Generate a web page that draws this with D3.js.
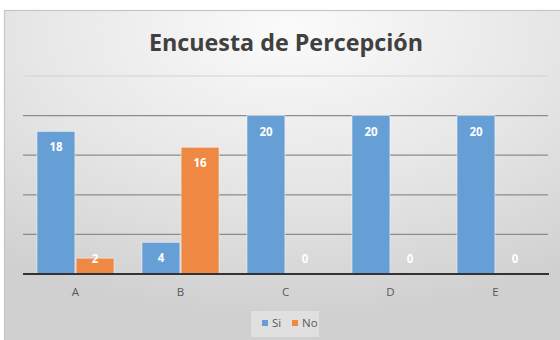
<!DOCTYPE html>
<html><head><meta charset="utf-8">
<script src="https://cdn.jsdelivr.net/npm/d3@7"></script>
<style>html,body{margin:0;padding:0;background:#fff;}svg{display:block;}</style>
</head><body>
<script>
const categories = ["A","B","C","D","E"];
const seriesNames = ["Si","No"];
const siValues = [18,4,20,20,20];
const noValues = [2,16,0,0,0];
const yTicks = [0,5,10,15,20,25];
const title = "Encuesta de Percepción";
const colors = ["#659fd6","#ef8843"];

const W=560,H=340;
const svg=d3.select("body").append("svg").attr("width",W).attr("height",H);
const defs=svg.append("defs");
const rg=defs.append("radialGradient").attr("id","bg").attr("cx","50%").attr("cy","5%").attr("r","85%")
  .attr("gradientUnits","objectBoundingBox");
rg.append("stop").attr("offset","0%").attr("stop-color","#fbfbfb");
rg.append("stop").attr("offset","55%").attr("stop-color","#e6e6e6");
rg.append("stop").attr("offset","100%").attr("stop-color","#d0d0d0");

svg.append("rect").attr("x",4.5).attr("y",10.5).attr("width",570).attr("height",340)
  .attr("fill","url(#bg)").attr("stroke","#c6c6c6").attr("stroke-width",1.2);

svg.append("text").attr("x",286).attr("y",50.5).attr("text-anchor","middle")
  .attr("font-family","Open Sans, sans-serif").attr("font-weight",700).attr("font-size",23.3)
  .attr("fill","#404040").text(title);

const x0=d3.scaleBand().domain(categories).range([23,548]).paddingInner(0).paddingOuter(0);
const x1=d3.scaleBand().domain(seriesNames).range([14,x0.bandwidth()-14]).paddingInner(0.03);
const y=d3.scaleLinear().domain([0,25]).range([274,76]);

const grid=svg.append("g");
grid.selectAll("line").data(yTicks.filter(d=>d>0)).enter().append("line")
  .attr("x1",23).attr("x2",548).attr("y1",d=>y(d)).attr("y2",d=>y(d))
  .attr("stroke",d=>d===25?"#d2d2d2":"#8c8c8c").attr("stroke-width",d=>d===25?1:1.3);

const data=categories.map((c,i)=>({cat:c,vals:[siValues[i],noValues[i]]}));
const g=svg.append("g");
data.forEach(d=>{
  d.vals.forEach((v,j)=>{
    const bx=x0(d.cat)+x1(seriesNames[j]);
    if(v>0){
      g.append("rect").attr("x",bx).attr("y",y(v)).attr("width",x1.bandwidth()).attr("height",y(0)-y(v))
        .attr("fill",colors[j]).attr("stroke","#f4f4f4").attr("stroke-width",0.8).attr("stroke-opacity",0.7);
    }
    const ly=Math.min(y(v)+16,y(0)-15);
    g.append("text").attr("x",bx+x1.bandwidth()/2).attr("y",ly).attr("dy","0.35em")
      .attr("text-anchor","middle").attr("font-family","Open Sans, sans-serif").attr("font-weight",700)
      .attr("font-size",11.5).attr("fill","#ffffff").text(v);
  });
});

svg.append("line").attr("x1",23).attr("x2",549).attr("y1",y(0)).attr("y2",y(0))
  .attr("stroke","#333").attr("stroke-width",2);

const xAxis=svg.append("g").attr("transform",`translate(0,${y(0)})`)
  .call(d3.axisBottom(x0).tickSize(0).tickPadding(14));
xAxis.select(".domain").remove();
xAxis.selectAll("text").attr("font-family","Open Sans, sans-serif").attr("font-size",11.5).attr("fill","#595959");

const leg=svg.append("g");
leg.append("rect").attr("x",251).attr("y",311).attr("width",68).attr("height",26).attr("fill","#f0f0f0").attr("opacity",0.5);
const legX=[262,292];
seriesNames.forEach((s,i)=>{
  leg.append("rect").attr("x",legX[i]).attr("y",320).attr("width",6).attr("height",6).attr("fill",colors[i]);
  leg.append("text").attr("x",legX[i]+10).attr("y",323).attr("dy","0.35em")
    .attr("font-family","Open Sans, sans-serif").attr("font-size",11.5).attr("fill","#595959").text(s);
});
</script>
</body></html>
